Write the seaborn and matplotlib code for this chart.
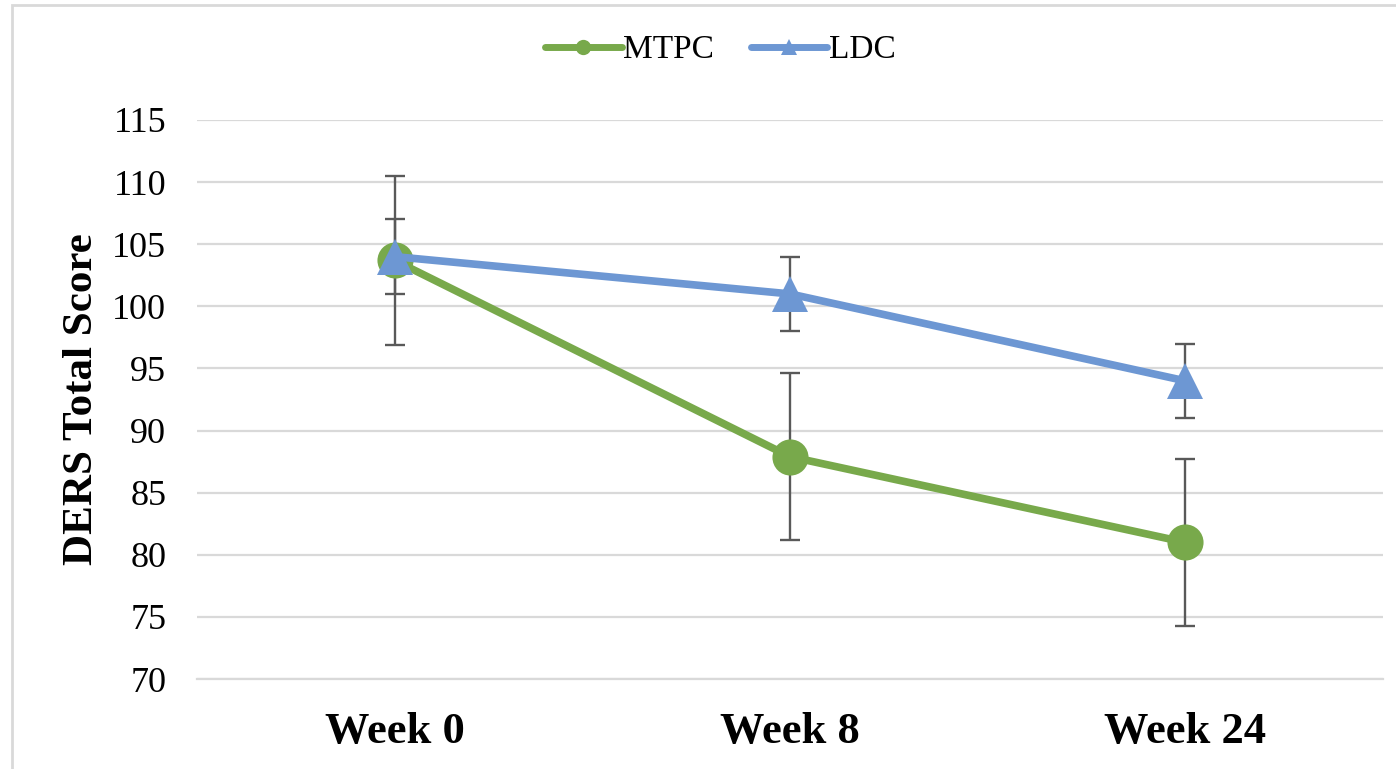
import matplotlib
matplotlib.use('Agg')
import matplotlib.pyplot as plt
from matplotlib.lines import Line2D
from matplotlib.patches import Rectangle
import pandas as pd
import seaborn as sns

WEEKS = ['Week 0', 'Week 8', 'Week 24']
MTPC_MEAN = [103.7, 87.9, 81.0]
MTPC_ERR = [6.8, 6.7, 6.7]
LDC_MEAN = [104.0, 101.0, 94.0]
LDC_ERR = [3.0, 3.0, 3.0]
Y_TICKS = [70, 75, 80, 85, 90, 95, 100, 105, 110, 115]

GROUP_COLORS = {'MTPC': '#78A94B', 'LDC': '#6D97D3'}
GROUP_MARKERS = {'MTPC': 'o', 'LDC': '^'}

df = pd.DataFrame({
    'Week': WEEKS * 2,
    'x': list(range(len(WEEKS))) * 2,
    'Score': MTPC_MEAN + LDC_MEAN,
    'Err': MTPC_ERR + LDC_ERR,
    'Group': ['MTPC'] * len(WEEKS) + ['LDC'] * len(WEEKS),
})

sns.set_style('white')
plt.rcParams['font.family'] = ['Liberation Serif', 'DejaVu Serif']
plt.rcParams['text.color'] = 'black'
plt.rcParams['xtick.color'] = 'black'
plt.rcParams['ytick.color'] = 'black'
plt.rcParams['axes.labelcolor'] = 'black'

fig = plt.figure(figsize=(13.96, 7.69), dpi=100)
ax = fig.add_axes([0.141, 0.117, 0.8497, 0.727])

# error bars behind the lines and markers
for grp, sub in df.groupby('Group', sort=False):
    ax.errorbar(sub['x'], sub['Score'], yerr=sub['Err'], fmt='none',
                ecolor='#595959', elinewidth=1.7, capsize=7.5, capthick=1.7, zorder=2)

sns.lineplot(data=df, x='x', y='Score', hue='Group', style='Group',
             palette=GROUP_COLORS, markers=GROUP_MARKERS, dashes=False,
             linewidth=5.5, markersize=26, markeredgewidth=0, legend=False,
             ax=ax, zorder=3)

ax.set_xlim(-0.5, len(WEEKS) - 0.5)
ax.set_ylim(70, 115)
ax.set_yticks(Y_TICKS)
ax.set_xticks(range(len(WEEKS)))
ax.set_xticklabels(WEEKS, fontsize=32, fontweight='bold')
ax.tick_params(axis='y', labelsize=26, length=0, pad=22)
ax.tick_params(axis='x', length=0, pad=24)
ax.yaxis.grid(True, color='#D9D9D9', linewidth=1.6, zorder=0)
ax.set_axisbelow(True)
for side in ['top', 'right', 'left']:
    ax.spines[side].set_visible(False)
ax.spines['bottom'].set_color('#D9D9D9')
ax.spines['bottom'].set_linewidth(1.6)
ax.set_xlabel('')
ax.set_ylabel('DERS Total Score', fontsize=31, fontweight='bold', labelpad=8)

handles = [Line2D([0], [0], color=GROUP_COLORS[g], marker=GROUP_MARKERS[g],
                  linewidth=5, markersize=11, markeredgewidth=0, label=g)
           for g in ['MTPC', 'LDC']]
fig.legend(handles=handles, loc='center', bbox_to_anchor=(0.516, 0.935),
           ncol=2, frameon=False, fontsize=24, handlelength=2.3,
           handletextpad=0.05, columnspacing=1.1)

fig.patches.append(Rectangle((0.0086, -0.1), 1.2, 1.0935, transform=fig.transFigure,
                             fill=False, edgecolor='#D9D9D9', linewidth=2))

fig.savefig('out.png', dpi=100)
